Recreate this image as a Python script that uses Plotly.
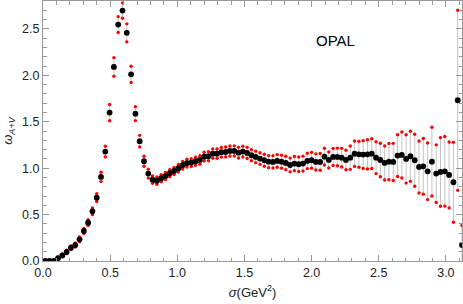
import plotly.graph_objects as go

# bin centres sigma (GeV^2)
sigma = [round(0.016 + 0.032 * k, 3) for k in range(98)]

omega = [
    0.0, 0.0, 0.0, 0.03, 0.06, 0.097, 0.143, 0.172, 0.233, 0.323,
    0.413, 0.535, 0.682, 0.905, 1.178, 1.598, 2.09, 2.546, 2.697, 2.457,
    2.01, 1.587, 1.29, 1.074, 0.941, 0.876, 0.865, 0.891, 0.916, 0.945,
    0.97, 0.999, 1.031, 1.053, 1.06, 1.074, 1.088, 1.124, 1.128, 1.156,
    1.156, 1.171, 1.174, 1.185, 1.185, 1.167, 1.178, 1.164, 1.139, 1.121,
    1.103, 1.085, 1.07, 1.067, 1.078, 1.07, 1.056, 1.034, 1.049, 1.042,
    1.049, 1.078, 1.085, 1.067, 1.067, 1.124, 1.088, 1.121, 1.121, 1.113,
    1.088, 1.113, 1.156, 1.149, 1.146, 1.149, 1.156, 1.113, 1.088, 1.056,
    1.07, 1.067, 1.135, 1.142, 1.099, 1.128, 1.085, 1.013, 1.02, 0.966,
    1.07, 0.941, 0.959, 0.966, 0.927, 0.848, 1.731, 0.172,
]

err = [
    0.008, 0.008, 0.008, 0.012, 0.015, 0.018, 0.02, 0.022, 0.025, 0.028,
    0.032, 0.036, 0.042, 0.05, 0.057, 0.087, 0.1, 0.086, 0.083, 0.097,
    0.088, 0.075, 0.063, 0.054, 0.048, 0.04, 0.04, 0.038, 0.038, 0.038,
    0.038, 0.04, 0.04, 0.042, 0.042, 0.044, 0.045, 0.047, 0.048, 0.05,
    0.05, 0.052, 0.053, 0.054, 0.055, 0.057, 0.058, 0.06, 0.06, 0.062,
    0.062, 0.064, 0.065, 0.066, 0.068, 0.07, 0.072, 0.074, 0.076, 0.078,
    0.08, 0.083, 0.085, 0.087, 0.09, 0.09, 0.086, 0.092, 0.095, 0.1,
    0.105, 0.126, 0.137, 0.14, 0.15, 0.158, 0.16, 0.172, 0.18, 0.183,
    0.195, 0.2, 0.225, 0.248, 0.26, 0.27, 0.28, 0.28, 0.30, 0.305,
    0.37, 0.31, 0.37, 0.375, 0.355, 0.43, 0.97, 0.21,
]

upper = [o + e for o, e in zip(omega, err)]
lower = [o - e for o, e in zip(omega, err)]

fig = go.Figure()

# grey error bars
fig.add_trace(go.Scatter(
    x=sigma, y=omega, mode="markers",
    marker=dict(size=1, color="rgba(0,0,0,0)"),
    error_y=dict(type="data", array=err, visible=True, color="#c4c4c4",
                 thickness=1, width=0),
    showlegend=False, hoverinfo="skip",
))
# red end points
for arr in (upper, lower):
    fig.add_trace(go.Scatter(
        x=sigma, y=arr, mode="markers",
        marker=dict(size=3.4, color="#ff0000"),
        showlegend=False,
    ))
# black central values
fig.add_trace(go.Scatter(
    x=sigma, y=omega, mode="markers",
    marker=dict(size=5.8, color="black"),
    showlegend=False,
))

fig.add_annotation(x=2.18, y=2.38, text="OPAL", showarrow=False,
                   font=dict(size=15, color="black", family="Liberation Sans, Arial"))

axis_common = dict(
    showline=True, linecolor="#999999", linewidth=1, mirror="ticks",
    ticks="inside", ticklen=6, tickcolor="#999999", tickwidth=1,
    showgrid=False, zeroline=False, automargin=False,
    tickfont=dict(size=12.5, color="#222222", family="Liberation Sans, Arial"),
)

fig.update_xaxes(
    range=[0, 3.12], tick0=0, dtick=0.5, tickformat=".1f",
    minor=dict(dtick=0.1, ticks="inside", ticklen=3.5, tickcolor="#999999", showgrid=False),
    title=dict(text="<i>σ</i>(GeV<sup>2</sup>)", standoff=8,
               font=dict(size=13, color="#222222", family="Liberation Sans, Arial")),
    **axis_common,
)
fig.update_yaxes(
    range=[0, 2.8], tick0=0, dtick=0.5, tickformat=".1f",
    minor=dict(dtick=0.1, ticks="inside", ticklen=3.5, tickcolor="#999999", showgrid=False),
    title=dict(text="<i>ω</i><sub><i>A+V</i></sub>", standoff=8,
               font=dict(size=13, color="#222222", family="Liberation Sans, Arial")),
    **axis_common,
)

fig.update_layout(
    width=463, height=304,
    margin=dict(l=43, r=1, t=1, b=43),
    plot_bgcolor="white", paper_bgcolor="white",
    showlegend=False,
)

fig.write_html("out.html", config={"displayModeBar": False},
               post_script="document.body.style.margin='0';document.body.style.overflow='hidden';")
